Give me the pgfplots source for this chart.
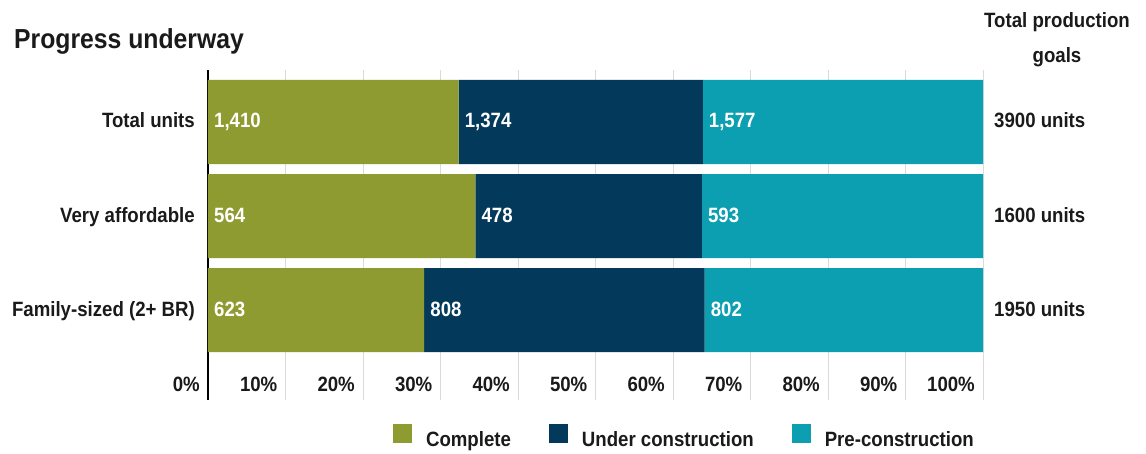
\documentclass[border=0pt]{standalone}
\usepackage{pgfplots}
\pgfplotsset{compat=1.18}
\usepackage{pgfplotstable}
\usepackage{fontspec}
\setmainfont{Liberation Sans}[FakeStretch=0.9]
\definecolor{cOlive}{HTML}{8D9B30}
\definecolor{cNavy}{HTML}{033A5C}
\definecolor{cTeal}{HTML}{0B9FB1}
\definecolor{cGrid}{HTML}{DADADA}
\definecolor{cText}{HTML}{1A1A1A}

% shares of each goal category (percent of the row total)
\pgfplotstableread{
y pc pu pp
2 32.332 31.507 36.161
1 34.495 29.235 36.270
0 27.900 36.185 35.915
}\pct

% segment labels: start of segment, row, value
\pgfplotstableread[col sep=semicolon]{
x;y;lab
0;2;1,410
32.332;2;1,374
63.839;2;1,577
0;1;564
34.495;1;478
63.730;1;593
0;0;623
27.900;0;808
64.085;0;802
}\seglabels

\pgfplotstableread[col sep=semicolon]{
x;y;lab
100;2;3900 units
100;1;1600 units
100;0;1950 units
}\goals

\pgfplotsset{
  geom/.style={
    at={(208pt,-400pt)}, anchor=south west,
    scale only axis, width=775pt, height=330pt,
    xmin=0, xmax=100, ymin=-0.957, ymax=2.553,
  }
}

\begin{document}
\begin{tikzpicture}[font=\bfseries\fontsize{20.7}{24}\selectfont, text=cText]
\path[use as bounding box] (0,0) rectangle (1146pt,-453pt);
\node[anchor=base west, inner sep=0pt, font=\bfseries\fontsize{27.5}{30}\selectfont] at (14pt,-48pt) {Progress underway};
\node[anchor=base, inner sep=0pt] at (1057pt,-27pt) {Total production};
\node[anchor=base, inner sep=0pt] at (1057pt,-62pt) {goals};

\begin{axis}[geom,
  xbar stacked, bar width=0.8936,
  axis lines*=left,
  x axis line style={draw=none},
  y axis line style={black, line width=2pt},
  xmajorgrids, grid style={cGrid, line width=1pt},
  major tick length=0pt,
  xtick={0,10,20,30,40,50,60,70,80,90,100},
  xticklabels={0\%,10\%,20\%,30\%,40\%,50\%,60\%,70\%,80\%,90\%,100\%},
  xticklabel style={anchor=base east, inner sep=0pt, xshift=-8pt, yshift=9pt},
  ytick={0,1,2},
  yticklabels={Family-sized (2+ BR),Very affordable,Total units},
  yticklabel style={anchor=base east, inner sep=0pt, xshift=-13pt, yshift=-6pt},
  legend columns=3,
  legend image code/.code={\fill[#1] (0pt,-3pt) rectangle (19pt,16pt);},
  legend style={at={(0.6135,-0.110)}, anchor=center, draw=none, fill=none,
    inner sep=0pt,
    /tikz/every odd column/.append style={column sep=14pt},
    /tikz/every even column/.append style={column sep=38pt},
    nodes={inner sep=0pt, text=cText}},
]
\addplot[fill=cOlive, draw=none] table[x=pc, y=y]{\pct};
\addlegendentry{Complete}
\addplot[fill=cNavy, draw=none] table[x=pu, y=y]{\pct};
\addlegendentry{Under construction}
\addplot[fill=cTeal, draw=none] table[x=pp, y=y]{\pct};
\addlegendentry{Pre-construction}
\end{axis}

\begin{axis}[geom, hide axis, clip=false]
\addplot[only marks, mark=none, point meta=explicit symbolic,
  nodes near coords={\pgfplotspointmeta},
  every node near coord/.append style={anchor=base west, text=white, inner sep=0pt, xshift=6pt, yshift=-6pt}]
  table[x=x, y=y, meta=lab]{\seglabels};
\addplot[only marks, mark=none, point meta=explicit symbolic,
  nodes near coords={\pgfplotspointmeta},
  every node near coord/.append style={anchor=base west, text=cText, inner sep=0pt, xshift=11pt, yshift=-6pt}]
  table[x=x, y=y, meta=lab]{\goals};
\end{axis}
\end{tikzpicture}
\end{document}
